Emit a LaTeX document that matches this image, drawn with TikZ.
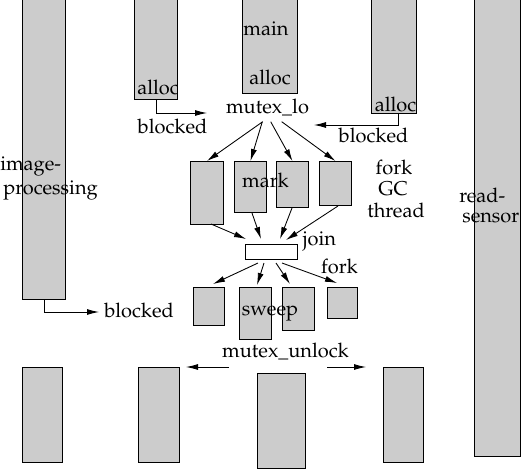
\documentclass[tikz,border=0pt]{standalone}
\usepackage[T1]{fontenc}
\usepackage{mathpazo}
\usetikzlibrary{arrows.meta}
\definecolor{boxgray}{RGB}{204,204,204}
\begin{document}
\begin{tikzpicture}[x=0.75pt,y=-0.75pt,
  lbl/.style={inner sep=0pt,anchor=base,font=\fontsize{15}{18}\selectfont},
  arr/.style={line width=0.65pt,-{Latex[length=9pt,width=4.5pt]}}]
\useasboundingbox (0,0) rectangle (521,469);
% thread bars and work boxes: name, x1, y1, x2, y2
\newcommand\procbox[6][boxgray]{%
  \node[draw,fill=#1,line width=0.7pt,inner sep=0pt,anchor=north west,
        minimum width={(#5-#3)*0.75pt},minimum height={(#6-#4)*0.75pt}]
        (#2) at (#3,#4) {};}
% top row of threads
\procbox{imgp}{22}{-2}{65}{299}
\procbox{ta}{134}{-2}{177}{99}
\procbox{mainp}{242}{-2}{297}{93}
\procbox{tb}{371}{-2}{416}{113}
\procbox{rsens}{474}{-2}{520}{456}
% GC mark threads
\procbox{m1}{190}{161}{223}{224}
\procbox{m2}{234}{161}{266}{212}
\procbox{m3}{276}{161}{308}{207}
\procbox{m4}{319}{161}{351}{205}
% join barrier
\procbox[white]{join}{245}{244}{297}{259}
% GC sweep threads
\procbox{s1}{193}{287}{224}{325}
\procbox{s2}{239}{287}{271}{339}
\procbox{s3}{282}{287}{314}{330}
\procbox{s4}{327}{287}{357}{318}
% bottom row of threads
\procbox{c1}{22}{367}{62}{462}
\procbox{c2}{138}{367}{179}{462}
\procbox{c3}{257}{373}{305}{468}
\procbox{c4}{383}{367}{423}{462}

% labels
\node[lbl] (tmain) at (266,35) {main};
\node[lbl] (tallocm) at (270,84) {alloc};
\node[lbl] (talloca) at (158,94) {alloc};
\node[lbl] (tallocb) at (395.5,111) {alloc};
\node[lbl] (tmlo) at (267.5,113) {mutex\_lo};
\node[lbl] (tbla) at (172.5,133) {blocked};
\node[lbl] (tblb) at (373.5,142) {blocked};
\node[lbl,anchor=base west] (tblc) at (104,317) {blocked};
\node[lbl,anchor=base west] (timg1) at (0,170) {image-};
\node[lbl,anchor=base west] (timg2) at (3,194) {processing};
\node[lbl,anchor=base west] (trs1) at (459,202) {read-};
\node[lbl,anchor=base west] (trs2) at (462,222) {sensor};
\node[lbl] (tfork1) at (394,174) {fork};
\node[lbl] (tgc) at (393,195) {GC};
\node[lbl] (tthread) at (396,217) {thread};
\node[lbl] (tmark) at (265.5,187) {mark};
\node[lbl] (tjoin) at (319.5,245) {join};
\node[lbl] (tfork2) at (339.5,273) {fork};
\node[lbl] (tsweep) at (270,315) {sweep};
\node[lbl] (tmul) at (285.5,357) {mutex\_unlock};

% end points of connectors
\coordinate (bla) at (207,113);
\coordinate (tbo) at (398,113);
\coordinate (blb) at (314,125);
\coordinate (blc) at (99,312);
\coordinate (ml1) at (262.7,121.7);
\coordinate (ml2) at (262.3,121.7);
\coordinate (ml3) at (270.7,121.7);
\coordinate (ml4) at (281.7,121.7);
\coordinate (m1o) at (211,224);
\coordinate (m2o) at (252,213);
\coordinate (m3o) at (292,208);
\coordinate (m4o) at (338,206);
\coordinate (j1) at (246,239);
\coordinate (j2) at (261,239);
\coordinate (j3) at (280,239);
\coordinate (j4) at (286,240);
\coordinate (f1) at (258,263);
\coordinate (f2) at (264,263);
\coordinate (f3) at (276,263);
\coordinate (f4) at (282,263);
\coordinate (s1i) at (213,284);
\coordinate (s2i) at (257,285);
\coordinate (s3i) at (290,284);
\coordinate (s4i) at (337,283);
\coordinate (ula) at (229,367);
\coordinate (ulae) at (186,367);
\coordinate (ulb) at (327,367);
\coordinate (ulbe) at (366,367);

% blocked on the mutex
\draw[arr] (ta.south) |- (bla);
\draw[arr] (tb.south -| tbo) |- (blb);
\draw[arr] (imgp.south) |- (blc);

% mutex_lo forks the mark threads
\draw[arr] (ml1) -- (m1.north);
\draw[arr] (ml2) -- (m2.north);
\draw[arr] (ml3) -- (m3.north);
\draw[arr] (ml4) -- (m4.north);

% mark threads join
\draw[arr] (m1o) -- (j1);
\draw[arr] (m2o) -- (j2);
\draw[arr] (m3o) -- (j3);
\draw[arr] (m4o) -- (j4);

% join forks the sweep threads
\draw[arr] (f1) -- (s1i);
\draw[arr] (f2) -- (s2i);
\draw[arr] (f3) -- (s3i);
\draw[arr] (f4) -- (s4i);

% mutex_unlock wakes the waiting threads
\draw[arr] (ula) -- (ulae);
\draw[arr] (ulb) -- (ulbe);
\end{tikzpicture}
\end{document}
